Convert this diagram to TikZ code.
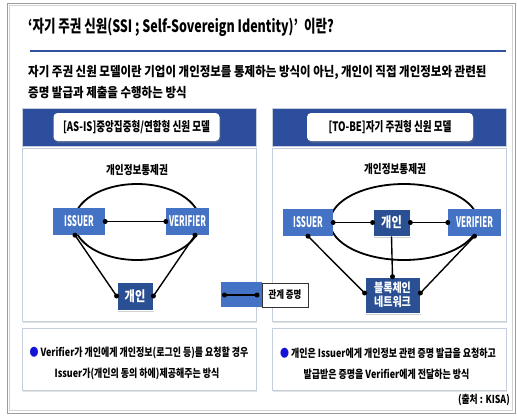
\documentclass[tikz,border=0pt]{standalone}
\usepackage{fontspec}
\newfontfamily\kr[FakeStretch=0.8]{Noto Sans CJK KR}
\newfontfamily\krT[FakeStretch=0.735]{Noto Sans CJK KR}
\newfontfamily\krB[FakeStretch=0.87]{Noto Sans CJK KR}
\newfontfamily\krN[FakeStretch=0.55]{Noto Sans CJK KR}
\usetikzlibrary{shapes.geometric,arrows.meta,shadows}
\definecolor{hdrblue}{HTML}{2C4E9C}
\definecolor{boxblue}{HTML}{4472C4}
\definecolor{darkbox}{HTML}{2B4F93}
\definecolor{linegray}{HTML}{C5CEDC}
\definecolor{titleblue}{HTML}{2F52A0}
\definecolor{framegray}{HTML}{9C9C9C}
\definecolor{bullet}{HTML}{1414D8}
\tikzset{
  panelbox/.style={draw=linegray, line width=0.9pt, fill=white,
    drop shadow={opacity=0.22, shadow xshift=0.8pt, shadow yshift=-1.5pt}},
  hdrband/.style={fill=hdrblue, draw=linegray, line width=0.8pt},
  hdrlabel/.style={fill=white, rounded corners=4pt, inner sep=0pt,
    minimum width=166pt, minimum height=28pt,
    font=\krT\bfseries\fontsize{13}{13}\selectfont,
    drop shadow={opacity=0.35, shadow xshift=1pt, shadow yshift=-2pt}},
  actor/.style={fill=boxblue, text=white, inner sep=0pt, minimum height=27pt,
    font=\krN\bfseries\fontsize{14.5}{14.5}\selectfont},
  person/.style={fill=darkbox, draw=white, line width=0.8pt, text=white, inner sep=0pt,
    font=\kr\bfseries\fontsize{14}{15}\selectfont, align=center,
    drop shadow={opacity=0.35, shadow xshift=1.2pt, shadow yshift=-1.5pt}},
  ring/.style={ellipse, draw=black, line width=1.8pt, inner sep=0pt},
  link/.style={line width=1.4pt},
  dot/.style={circle, fill=black, inner sep=0pt, minimum size=5pt},
  ctrl/.style={font=\kr\bfseries\fontsize{12}{12}\selectfont},
  desc/.style={font=\kr\bfseries\fontsize{11.2}{11.2}\selectfont},
}
\begin{document}
\begin{tikzpicture}[x=1pt,y=-1pt]
\useasboundingbox (0,0) rectangle (517,416);
\fill[white] (0,0) rectangle (517,416);
% outer frame
\draw[framegray, line width=0.9pt] (7,3) rectangle (515,413);
\draw[framegray!45, line width=0.8pt] (9.5,5.5) rectangle (512.5,410.5);
% title
\node[anchor=west, inner sep=0pt, font=\krT\bfseries\fontsize{17}{17}\selectfont] (title) at (28,27)
  {‘자기 주권 신원(SSI ; Self-Sovereign Identity)’\hspace{6pt}이란?};
\draw[titleblue, line width=2.6pt] (30,51) -- (506,51);
\node[anchor=west, inner sep=0pt, font=\krB\bfseries\fontsize{13.2}{13.2}\selectfont] (body1) at (28,72)
  {자기 주권 신원 모델이란 기업이 개인정보를 통제하는 방식이 아닌, 개인이 직접 개인정보와 관련된};
\node[anchor=west, inner sep=0pt, font=\krB\bfseries\fontsize{13.2}{13.2}\selectfont] (body2) at (28,93)
  {증명 발급과 제출을 수행하는 방식};

% ---------- left panel ----------
\draw[hdrband] (22,108) rectangle (256,146);
\draw[panelbox] (22,148) rectangle (256,321);
\draw[panelbox] (22,328) rectangle (256,390);
\node[hdrlabel] (lhdr) at (136.5,127) {[AS-IS]중앙집중형/연합형 신원 모델};
\node[ctrl] (lctrl) at (137,170) {개인정보통제권};
\node[ring, minimum width=126pt, minimum height=76pt] (lring) at (137,222) {};
\node[actor, minimum width=52pt] (li) at (79,221.5) {ISSUER};
\node[actor, minimum width=43pt] (lv) at (187.5,221.5) {VERIFIER};
\node[person, minimum width=36pt, minimum height=28pt] (lp) at (135,296) {개인};
\draw[link] (li.east) -- (lv.west) node[dot,pos=0]{} node[dot,pos=1]{};
\draw[link] ([xshift=-4pt]li.south) -- (lp.west) node[dot,pos=0]{} node[dot,pos=1]{};
\draw[link] ([xshift=7.5pt]lv.south) -- (lp.east) node[dot,pos=0]{} node[dot,pos=1]{};
\node[desc] (ld1) at (139,353) {{\color{bullet}●} Verifier가 개인에게 개인정보(로그인 등)를 요청할 경우};
\node[desc] (ld2) at (137,374) {Issuer가(개인의 동의 하에)제공해주는 방식};

% ---------- right panel ----------
\draw[hdrband] (272,108) rectangle (506,146);
\draw[panelbox] (272,148) rectangle (506,321);
\draw[panelbox] (272,328) rectangle (506,390);
\node[hdrlabel] (rhdr) at (390,127) {[TO-BE]자기 주권형 신원 모델};
\node[ctrl] (rctrl) at (395,169) {개인정보통제권};
\node[ring, minimum width=148pt, minimum height=76pt] (rring) at (404,222) {};
\node[actor, minimum width=50pt] (ri) at (308,222.5) {ISSUER};
\node[person, minimum width=37pt, minimum height=27pt] (rp) at (391.5,222.5) {개인};
\node[actor, minimum width=53pt] (rv) at (474.5,222.5) {VERIFIER};
\node[person, minimum width=55pt, minimum height=36pt, font=\kr\bfseries\fontsize{12.5}{14}\selectfont] (bc) at (392.5,295) {블록체인\\네트워크};
\draw[link] (ri.east) -- (rp.west) node[dot,pos=0]{} node[dot,pos=1]{};
\draw[link] (rp.east) -- (rv.west) node[dot,pos=0]{} node[dot,pos=1]{};
\draw[link] (rp.south) -- (bc.north) node[dot,pos=1]{};
\draw[link] (ri.south) -- ([yshift=2pt]bc.west) node[dot,pos=0]{} node[dot,pos=1]{};
\draw[link] (rv.south) -- ([yshift=2pt]bc.east) node[dot,pos=0]{} node[dot,pos=1]{};
\node[desc] (rd1) at (388,353) {{\color{bullet}●} 개인은 Issuer에게 개인정보 관련 증명 발급을 요청하고};
\node[desc] (rd2) at (386.5,374) {발급받은 증명을 Verifier에게 전달하는 방식};

% ---------- legend ----------
\node[fill=boxblue, minimum width=41pt, minimum height=25pt, inner sep=0pt] (legb) at (241.5,294.5) {};
\node[draw=black!80, fill=white, line width=0.6pt, minimum width=46pt, minimum height=24pt, inner sep=0pt,
  font=\kr\bfseries\fontsize{10.5}{10.5}\selectfont] (legt) at (285,295) {관계 증명};
\coordinate (la) at (224.5,295);
\coordinate (lb) at (257,295);
\draw[link] (la) -- (lb) node[dot,pos=0]{} node[dot,pos=1]{};

% source
\node[anchor=east, inner sep=0pt, font=\kr\bfseries\fontsize{11}{11}\selectfont] (src) at (510,400) {(출처 : KISA)};
\end{tikzpicture}
\end{document}
